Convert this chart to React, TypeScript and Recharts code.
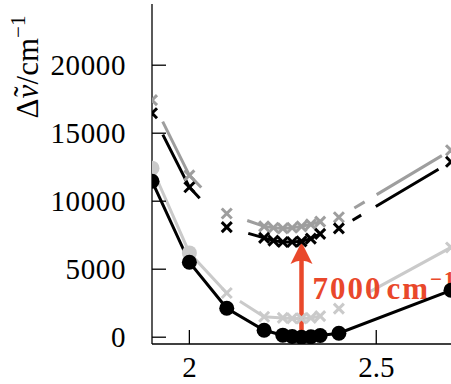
import React from "react";
import { LineChart, Line, XAxis, YAxis, ReferenceLine } from "recharts";

// bond length grid (x) and energy gaps in cm^-1 (y)
const circleX = [1.9, 2.0, 2.1, 2.2, 2.25, 2.275, 2.3, 2.325, 2.35, 2.4, 2.7];
const blackCircle = [11470, 5510, 2130, 510, 150, 50, 0, 30, 120, 290, 3450];
const grayLower = [12430, 6200, 3250, 1500, 1420, 1380, 1380, 1420, 1550, 2100, 6600];

const crossX = [1.9, 2.0, 2.1, 2.2, 2.225, 2.25, 2.275, 2.3, 2.325, 2.35, 2.4, 2.7];
const blackCross = [16470, 11030, 8090, 7300, 7100, 7000, 7000, 7050, 7250, 7600, 8000, 12900];
const grayCross = [17430, 11900, 9100, 8150, 8050, 8000, 8050, 8150, 8300, 8500, 8820, 13750];

const xTicks = [2, 2.5];
const yTicks = [0, 5000, 10000, 15000, 20000];

const arrowX = 2.3;
const arrowValue = 7000;

const FONT = "'Liberation Serif', 'DejaVu Serif', serif";
const RED = "#e9482b";
const LIGHT = "#cacaca";
const MID = "#9e9e9e";

const rows = (xs: number[], ys: number[]) => xs.map((x, i) => ({ x, y: ys[i] }));

const Cross = ({ cx, cy, color }: any) => (
  <g>
    <line x1={cx - 5} y1={cy - 5} x2={cx + 5} y2={cy + 5} stroke={color} strokeWidth={3} />
    <line x1={cx - 5} y1={cy + 5} x2={cx + 5} y2={cy - 5} stroke={color} strokeWidth={3} />
  </g>
);

const YTick = ({ x, y, payload }: any) => (
  <g>
    <line x1={x} x2={x + 14} y1={y} y2={y} stroke="#000" strokeWidth={1.3} />
    <text
      x={x - 26}
      y={y + 10}
      textAnchor="end"
      fontFamily={FONT}
      fontSize={29}
      letterSpacing={0.6}
      fill="#000"
    >
      {payload.value}
    </text>
  </g>
);

const XTick = ({ x, y, payload }: any) => (
  <g>
    <line x1={x} x2={x} y1={y} y2={y - 14} stroke="#000" strokeWidth={1.3} />
    <text x={x} y={y + 33} textAnchor="middle" fontFamily={FONT} fontSize={29} fill="#000">
      {payload.value}
    </text>
  </g>
);

const Arrow = (p: any) => {
  const x = p.x1;
  const bottom = Math.max(p.y1, p.y2);
  const top = Math.min(p.y1, p.y2);
  return (
    <g>
      <line x1={x} x2={x} y1={bottom} y2={top + 14} stroke={RED} strokeWidth={4.5} />
      <path
        d={`M${x},${top} L${x + 11},${top + 22} Q${x},${top + 15} ${x - 11},${top + 22} Z`}
        fill={RED}
      />
      <text
        x={x + 11}
        y={(bottom + top) / 2 + 9}
        fontFamily={FONT}
        fontWeight="bold"
        fontSize={31}
        letterSpacing={2}
        fill={RED}
      >
        {arrowValue}
        <tspan dx={4}>cm</tspan>
        <tspan dy={-13} fontSize={21}>
          −1
        </tspan>
      </text>
    </g>
  );
};

const YLabel = () => (
  <text
    transform="translate(38,67) rotate(-90)"
    textAnchor="middle"
    fontFamily={FONT}
    fontSize={31}
    fill="#000"
  >
    Δ<tspan fontStyle="italic">ν</tspan>
    <tspan dx={-12} dy={-3}>˜</tspan>
    <tspan dx={2} dy={3}>/cm</tspan>
    <tspan dy={-13} fontSize={21}>
      −1
    </tspan>
  </text>
);

export default function App() {
  return (
    <div style={{ position: "absolute", left: 0, top: 0, background: "#fff" }}>
      <LineChart width={451} height={384} margin={{ top: 4, right: 0, bottom: 0, left: 0 }}>
        <XAxis
          dataKey="x"
          type="number"
          domain={[1.9, 2.7]}
          ticks={xTicks}
          height={40}
          tickSize={0}
          tickMargin={0}
          tickLine={false}
          axisLine={{ stroke: "#000", strokeWidth: 1.3 }}
          tick={(p: any) => <XTick {...p} />}
          allowDataOverflow
        />
        <YAxis
          type="number"
          domain={[-500, 24500]}
          ticks={yTicks}
          width={152}
          interval={0}
          tickSize={0}
          tickMargin={0}
          tickLine={false}
          axisLine={{ stroke: "#000", strokeWidth: 1.3 }}
          tick={(p: any) => <YTick {...p} />}
          label={() => <YLabel />}
          allowDataOverflow
        />
        <Line
          data={rows(circleX, grayLower)}
          dataKey="y"
          stroke={LIGHT}
          strokeWidth={3}
          strokeDasharray="147 16 86 51 400"
          isAnimationActive={false}
          dot={(p: any) =>
            p.index < 2 ? (
              <circle key={`gl${p.index}`} cx={p.cx} cy={p.cy} r={7.5} fill={LIGHT} />
            ) : (
              <Cross key={`gl${p.index}`} cx={p.cx} cy={p.cy} color={LIGHT} />
            )
          }
        />
        <Line
          data={rows(crossX, grayCross)}
          dataKey="y"
          stroke={MID}
          strokeWidth={3}
          strokeDasharray="0 24 77 58 76 36 12 14 76 100"
          isAnimationActive={false}
          dot={(p: any) => <Cross key={`gc${p.index}`} cx={p.cx} cy={p.cy} color={MID} />}
        />
        <ReferenceLine
          segment={[
            { x: arrowX, y: 0 },
            { x: arrowX, y: arrowValue },
          ]}
          shape={(p: any) => <Arrow {...p} />}
        />
        <Line
          data={rows(crossX, blackCross)}
          dataKey="y"
          stroke="#000"
          strokeWidth={3}
          strokeDasharray="0 24 74 62 75 35 10 17 73 100"
          isAnimationActive={false}
          dot={(p: any) => <Cross key={`bc${p.index}`} cx={p.cx} cy={p.cy} color="#000" />}
        />
        <Line
          data={rows(circleX, blackCircle)}
          dataKey="y"
          stroke="#000"
          strokeWidth={3}
          isAnimationActive={false}
          dot={(p: any) => <circle key={`bk${p.index}`} cx={p.cx} cy={p.cy} r={7.5} fill="#000" />}
        />
      </LineChart>
    </div>
  );
}
